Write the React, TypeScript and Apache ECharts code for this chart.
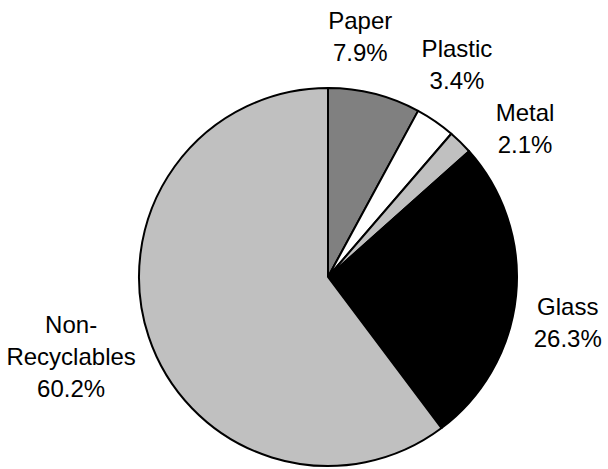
import React, { useEffect, useRef } from "react";
import * as echarts from "echarts";

const categories = ["Paper", "Plastic", "Metal", "Glass", "Non-Recyclables"];
const shares = [7.9, 3.4, 2.1, 26.3, 60.2];
const sliceColors = ["#808080", "#ffffff", "#c0c0c0", "#000000", "#c0c0c0"];

// label placement (layout only): angular offset from slice mid-angle (deg) and distance from centre
const labelAngleOffset = [-6.6, -3.4, 8.4, 5.0, 1.2];
const labelDistance = [243, 249, 247, 244, 269];

const CX = 328;
const CY = 277;
const R = 189;

export default function App() {
  const ref = useRef<HTMLDivElement>(null);
  useEffect(() => {
    document.body.style.margin = "0";
    if (!ref.current) return;
    const chart = echarts.init(ref.current, null, { renderer: "svg" });
    const total = shares.reduce((a, b) => a + b, 0);
    const mids: number[] = [];
    let acc = 0;
    shares.forEach((v) => {
      mids.push(((acc + v / 2) / total) * 360);
      acc += v;
    });
    chart.setOption({
      animation: false,
      backgroundColor: "#ffffff",
      series: [
        {
          type: "pie",
          center: [CX, CY],
          radius: [0, R],
          startAngle: 90,
          clockwise: true,
          avoidLabelOverlap: false,
          itemStyle: { borderColor: "#000000", borderWidth: 2 },
          label: {
            show: true,
            position: "outside",
            fontFamily: "Liberation Sans, Arial, sans-serif",
            fontSize: 24,
            lineHeight: 32,
            color: "#000000",
            align: "center",
            formatter: (p: any) =>
              `${String(p.name).replace("Non-", "Non-\n")}\n${Number(p.value).toFixed(1)}%`,
          },
          labelLine: { show: false },
          labelLayout: (p: any) => {
            const i = p.dataIndex;
            const a = ((mids[i] + labelAngleOffset[i]) * Math.PI) / 180;
            const d = labelDistance[i];
            return {
              x: CX + Math.sin(a) * d,
              y: CY - Math.cos(a) * d,
              align: "center",
              verticalAlign: "middle",
            };
          },
          emphasis: { disabled: true },
          data: categories.map((c, i) => ({
            name: c,
            value: shares[i],
            itemStyle: { color: sliceColors[i] },
          })),
        },
      ],
    });
    return () => chart.dispose();
  }, []);
  return <div ref={ref} style={{ width: 608, height: 469 }} />;
}
